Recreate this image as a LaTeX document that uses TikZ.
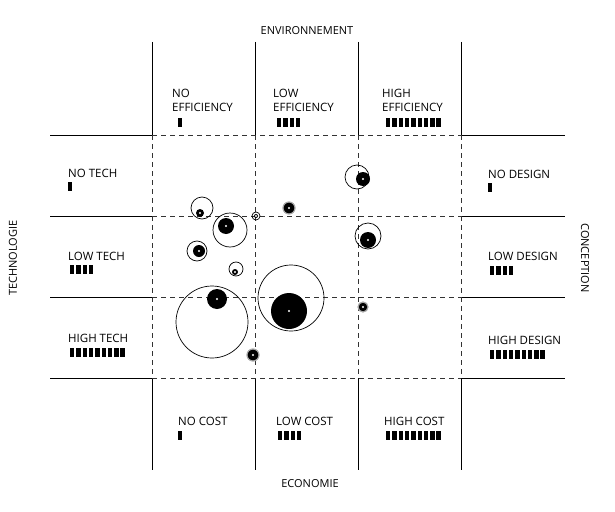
\documentclass[tikz,border=0pt]{standalone}
\usepackage{fontspec}
\setmainfont{Open Sans}
\begin{document}
\begin{tikzpicture}[x=1pt,y=-1pt,
  lbl/.style={font=\fontsize{11.5}{14}\selectfont,anchor=west,inner sep=0pt,align=left},
  axis/.style={font=\fontsize{11}{13}\selectfont,inner sep=0pt},
  solidl/.style={line width=1pt},
  dashl/.style={dashed,dash pattern=on 5pt off 4pt,line width=0.7pt,gray!40!black},
  ring/.style={draw,line width=0.7pt,fill=none},
  halo/.style={draw=gray!70,line width=1.2pt,fill=black}]
\useasboundingbox (0,0) rectangle (615,511);
% solid lines
\foreach \x in {152,255,358,461}{
  \draw[solidl] (\x,42) -- (\x,135);
  \draw[solidl] (\x,378) -- (\x,470);}
\foreach \y in {135,216,297,378}{
  \draw[solidl] (50,\y) -- (152,\y);
  \draw[solidl] (461,\y) -- (565,\y);}
% dashed grid
\foreach \x in {152,255,358,461} \draw[dashl] (\x,135) -- (\x,378);
\foreach \y in {135,216,297,378} \draw[dashl] (152,\y) -- (461,\y);
% axis labels
\node[axis] (env) at (307,31) {ENVIRONNEMENT};
\node[axis] (eco) at (310,484) {ECONOMIE};
\node[axis,rotate=90] (tech) at (13,258) {TECHNOLOGIE};
\node[axis,rotate=-90] (conc) at (585,258) {CONCEPTION};
% bars macro
\newcommand{\mybars}[3]{\foreach \i in {1,...,#3}{\fill ({#1+(\i-1)*6.3},#2) rectangle ++(4.4,9);}}
% top
\node[lbl] (ne) at (172,100) {NO\\EFFICIENCY}; \mybars{178}{118}{1}
\node[lbl] (le) at (273,100) {LOW\\EFFICIENCY}; \mybars{277}{118}{4}
\node[lbl] (he) at (382,100) {HIGH\\EFFICIENCY}; \mybars{386}{118}{9}
% left
\node[lbl] (nt) at (68,173) {NO TECH}; \mybars{68}{182}{1}
\node[lbl] (lt) at (68,256) {LOW TECH}; \mybars{70}{265}{4}
\node[lbl] (ht) at (68,338) {HIGH TECH}; \mybars{70}{348}{9}
% right
\node[lbl] (nd) at (488,174) {NO DESIGN}; \mybars{488}{183}{1}
\node[lbl] (ld) at (488,256) {LOW DESIGN}; \mybars{490}{266}{4}
\node[lbl] (hd) at (488,340) {HIGH DESIGN}; \mybars{490}{350}{9}
% bottom
\node[lbl] (nc) at (178,421) {NO COST}; \mybars{178}{431}{1}
\node[lbl] (lc) at (276,421) {LOW COST}; \mybars{278}{431}{4}
\node[lbl] (hc) at (384,421) {HIGH COST}; \mybars{386}{431}{9}
% circles
\newcommand{\bub}[6]{\draw[ring] (#1,#2) circle (#3); \fill (#4,#5) circle (#6); \fill[white] (#4,#5) circle (1.1);}
\bub{357}{177}{12}{363}{179}{7}
\bub{202}{208}{11}{200}{213}{4}
\bub{230}{230}{17}{226}{226}{8}
\bub{256}{216}{4}{256}{216}{2}
\bub{368}{236}{13}{368}{240}{8}
\bub{197}{251}{10}{199}{251}{6}
\bub{236}{269}{7}{235}{272}{3}
\bub{212}{322}{36}{217}{299}{10}
\bub{291}{298}{33}{289}{311}{18}
\newcommand{\dotb}[3]{\draw[halo] (#1,#2) circle (#3); \fill[white] (#1,#2) circle (1.1);}
\dotb{289}{208}{6}
\dotb{363}{307}{5}
\dotb{253}{355}{6}
\end{tikzpicture}
\end{document}
